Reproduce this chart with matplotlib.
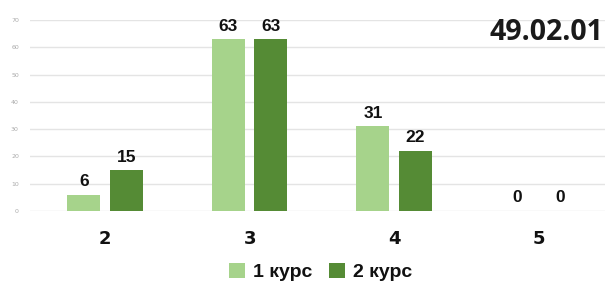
import numpy as np
import matplotlib.pyplot as plt

categories = ["2", "3", "4", "5"]
kurs1 = [6, 63, 31, 0]
kurs2 = [15, 63, 22, 0]
series_names = ["1 курс", "2 курс"]
title = "49.02.01"

light = "#a6d38b"
dark = "#558b35"

fig = plt.figure(figsize=(6.05, 2.86), dpi=100)
ax = fig.add_axes([30 / 605, 1 - 211 / 286, 1 - 30 / 605, (211 - 20) / 286])

x = np.arange(len(categories))
w = 0.228
off = 0.147
b1 = ax.bar(x - off, kurs1, w, color=light, label=series_names[0], zorder=2)
b2 = ax.bar(x + off, kurs2, w, color=dark, label=series_names[1], zorder=2)

for bars in (b1, b2):
    for r in bars:
        ax.annotate(str(int(r.get_height())), (r.get_x() + r.get_width() / 2, r.get_height()),
                    xytext=(0, 4), textcoords="offset points", ha="center", va="bottom",
                    fontsize=12.5, fontweight="bold", family="Liberation Sans", color="#111111")

ax.set_xlim(-0.52, 3.46)
ax.set_ylim(0, 70)
ax.set_yticks(range(0, 71, 10))
ax.yaxis.grid(True, color="#e4e4e4", lw=1, zorder=0)
ax.tick_params(axis="y", length=0, labelsize=4.5, labelcolor="#aaaaaa", pad=8)
ax.set_xticks(x)
ax.set_xticklabels(categories, fontsize=13, fontweight="heavy", family="DejaVu Sans", color="#111111")
ax.tick_params(axis="x", length=0, pad=14)
for s in ax.spines.values():
    s.set_visible(False)

fig.text(0.997, 0.885, title, ha="right", va="center", fontsize=20.5, fontweight="bold",
         family="Open Sans", color="#1a1a1a")

leg = fig.legend(loc="center", bbox_to_anchor=(0.53, 1 - 272 / 286), ncol=2, frameon=False,
                 handlelength=0.8, handleheight=0.8, handletextpad=0.4, columnspacing=0.9,
                 prop={"family": "Liberation Sans", "weight": "bold", "size": 14})
for t in leg.get_texts():
    t.set_color("#111111")

fig.savefig("out.png", dpi=100)
